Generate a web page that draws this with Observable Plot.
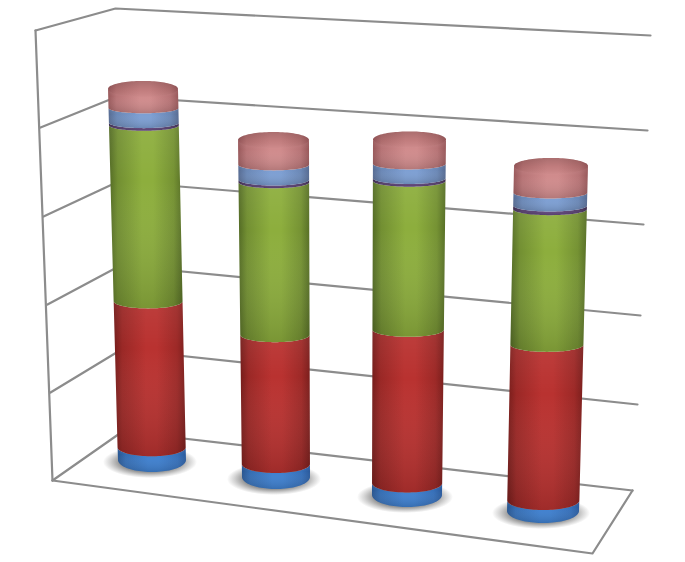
<!DOCTYPE html>
<html>
<head>
<meta charset="utf-8">
<style>html,body{margin:0;padding:0;background:#fff}svg{display:block}</style>
<script src="https://cdn.jsdelivr.net/npm/d3@7"></script>
<script src="https://cdn.jsdelivr.net/npm/@observablehq/plot@0.6"></script>
</head>
<body>
<div id="chart"></div>
<script>
// Stacked values, in gridline intervals, one entry per cylinder
const categories = ["A", "B", "C", "D"];
const blue      = [0.18, 0.18, 0.16, 0.14];
const red       = [1.69, 1.47, 1.71, 1.70];
const green     = [2.03, 1.73, 1.65, 1.47];
const purple    = [0.03, 0.03, 0.03, 0.04];
const lightBlue = [0.17, 0.17, 0.16, 0.14];
const pink      = [0.22, 0.28, 0.27, 0.29];

const seriesNames = ["blue", "red", "green", "purple", "lightBlue", "pink"];
const seriesValues = [blue, red, green, purple, lightBlue, pink];

// 3-D view: where each cylinder stands in the picture
const baseX   = [152, 276, 407, 543];
const baseY   = [472, 489, 507, 523];
const topX    = [143, 273.5, 409.5, 551];
const baseHW  = [34, 34, 35, 36];
const topHW   = [35, 35.5, 36.5, 37];
const unitPx  = [87.5, 89, 91, 93];

// 3-D frame: front-left edge, back-left corner, right end of each wall line
const frontLeft = [[52,480],[50,392],[47,304],[43,216],[40,127],[35,30]];
const backLeft  = [[122,431],[121,349],[120,265],[118,181],[117,96],[115,8]];
const backRight = [[632,490],[637,404],[640,315],[643,224],[647,130],[650,35]];
const frontRight = [592,553];

const palette = {
  blue:      ["#28558f", "#3f80cf", "#2a5a9c"],
  red:       ["#741c1a", "#b93230", "#7a1e1c"],
  green:     ["#526a24", "#8dae3d", "#576f26"],
  purple:    ["#3f2f50", "#644880", "#3f2f50"],
  lightBlue: ["#566b92", "#7d9fd3", "#566b92"],
  pink:      ["#98585a", "#d08b8c", "#98585a"],
  cap:       ["#9c5a5d", "#cb8384", "#9c5a5d"]
};

const thetas = d3.range(0, 49).map(i => Math.PI * i / 48);
const semi = d3.scaleLinear().domain([0, 0.2, 4.4]).range([12, 8.5, 5]).clamp(true);

const bands = [], caps = [], shadows = [];
categories.forEach((c, i) => {
  const total = d3.sum(seriesValues, s => s[i]);
  const at = (v, th) => {
    const t = v / total;
    const cx = baseX[i] + (topX[i] - baseX[i]) * t;
    const hw = baseHW[i] + (topHW[i] - baseHW[i]) * t;
    const b = semi(v);
    const front = baseY[i] - unitPx[i] * v;
    return [cx + hw * Math.cos(th), front - b + b * Math.sin(th)];
  };
  let v0 = 0;
  seriesValues.forEach((s, j) => {
    const v1 = v0 + s[i];
    for (const th of thetas) {
      const p = at(v0, th), q = at(v1, th);
      bands.push({key: c + j, x1: p[0], y1: p[1], x2: q[0], y2: q[1], fill: `url(#g-${seriesNames[j]})`});
    }
    v0 = v1;
  });
  const yc = baseY[i] - unitPx[i] * total - semi(total);
  for (const th of thetas) {
    caps.push({key: c, x: topX[i] + topHW[i] * Math.cos(th), y1: yc + 8 * Math.sin(th), y2: yc - 8 * Math.sin(th)});
    shadows.push({key: c, x: baseX[i] - 2 + (baseHW[i] + 13) * Math.cos(th), y1: baseY[i] - 10 + 16 * Math.sin(th), y2: baseY[i] - 10 - 16 * Math.sin(th)});
  }
});

const frameLines = [];
frontLeft.forEach((p, i) => {
  frameLines.push({key: "g" + i, x: p[0], y: p[1]});
  frameLines.push({key: "g" + i, x: backLeft[i][0], y: backLeft[i][1]});
  frameLines.push({key: "g" + i, x: backRight[i][0], y: backRight[i][1]});
});
frameLines.push({key: "fl", x: frontLeft[0][0], y: frontLeft[0][1]});
frameLines.push({key: "fl", x: frontLeft[5][0], y: frontLeft[5][1]});
[frontLeft[0], frontRight, backRight[0]].forEach(p => frameLines.push({key: "floor", x: p[0], y: p[1]}));

const chart = Plot.plot({
  width: 685, height: 562,
  marginTop: 0, marginRight: 0, marginBottom: 0, marginLeft: 0,
  x: {type: "linear", domain: [0, 685], range: [0, 685], axis: null},
  y: {type: "linear", domain: [0, 562], range: [0, 562], axis: null},
  color: {type: "identity"},
  style: {background: "#fff"},
  marks: [
    Plot.line(frameLines, {x: "x", y: "y", z: "key", stroke: "#8c8c8c", strokeWidth: 2.2, curve: "linear"}),
    Plot.area(shadows, {x1: "x", y1: "y1", y2: "y2", z: "key", fill: "url(#g-shadow)"}),
    Plot.area(bands, {x1: "x1", y1: "y1", x2: "x2", y2: "y2", z: "key", fill: "fill"}),
    Plot.area(bands, {x1: "x1", y1: "y1", x2: "x2", y2: "y2", z: "key", fill: "url(#g-v)"}),
    Plot.area(caps, {x1: "x", y1: "y1", y2: "y2", z: "key", fill: "url(#g-cap)"}),
    Plot.area(caps, {x1: "x", y1: "y1", y2: "y2", z: "key", fill: "url(#g-capv)"})
  ]
});

// gradients
const svg = d3.select(chart);
const defs = svg.insert("defs", ":first-child");
const hgrad = (id, cols) => {
  const g = defs.append("linearGradient").attr("id", id).attr("x1", 0).attr("x2", 1).attr("y1", 0).attr("y2", 0);
  [[0, cols[0]], [0.12, d3.interpolateRgb(cols[0], cols[1])(0.55)], [0.45, cols[1]], [0.6, cols[1]], [0.88, d3.interpolateRgb(cols[2], cols[1])(0.55)], [1, cols[2]]].forEach(([o, c]) =>
    g.append("stop").attr("offset", o).attr("stop-color", c));
};
hgrad("g-cap", palette.cap);
seriesNames.forEach(n => hgrad("g-" + n, palette[n]));
const vstops = (id, stops) => {
  const g = defs.append("linearGradient").attr("id", id).attr("x1", 0).attr("x2", 0).attr("y1", 0).attr("y2", 1);
  stops.forEach(([o, c, a]) => g.append("stop").attr("offset", o).attr("stop-color", c).attr("stop-opacity", a));
};
vstops("g-v", [[0, "#fff", 0.06], [0.3, "#fff", 0], [1, "#000", 0.14]]);
vstops("g-capv", [[0, "#000", 0.16], [0.55, "#000", 0.05], [1, "#fff", 0.06]]);
const rg = defs.append("radialGradient").attr("id", "g-shadow");
[[0, 0.75], [0.65, 0.7], [0.85, 0.28], [1, 0]].forEach(([o, a]) =>
  rg.append("stop").attr("offset", o).attr("stop-color", "#6a6a6a").attr("stop-opacity", a));

document.getElementById("chart").appendChild(chart);
</script>
</body>
</html>
